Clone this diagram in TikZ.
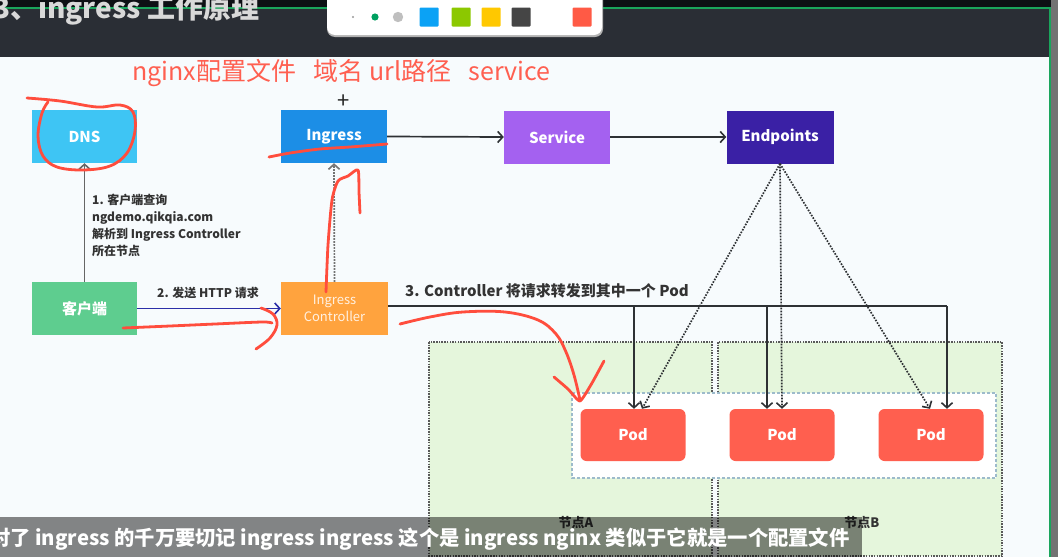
\documentclass[tikz,border=0pt]{standalone}
\usepackage{fontspec}
\setmainfont{Noto Sans CJK SC}
\usetikzlibrary{arrows.meta,calc}
\definecolor{topdark}{HTML}{2A2E35}
\definecolor{topblack}{HTML}{0D1014}
\definecolor{winline}{HTML}{1AA55C}
\definecolor{pagebg}{HTML}{F7FBFD}
\definecolor{dnsblue}{HTML}{3EC5F4}
\definecolor{ingblue}{HTML}{1C8EE6}
\definecolor{svcpurple}{HTML}{A461F0}
\definecolor{epindigo}{HTML}{3A20A5}
\definecolor{clientgreen}{HTML}{5ECD8F}
\definecolor{ctrlorange}{HTML}{FFA33E}
\definecolor{podred}{HTML}{FF5F4F}
\definecolor{nodegreen}{HTML}{E5F6DC}
\definecolor{penred}{HTML}{FF4D3D}
\definecolor{arrowgray}{HTML}{2E3134}
\definecolor{navy}{HTML}{2B2FA8}
\definecolor{dashblue}{HTML}{9DBBCB}
\definecolor{tbblue}{HTML}{0BA2F5}
\definecolor{tbgreen}{HTML}{8CC800}
\definecolor{tbyellow}{HTML}{FFC800}
\definecolor{tbdark}{HTML}{454545}
\definecolor{tbred}{HTML}{FF5A45}
\definecolor{tbdotgreen}{HTML}{00A060}
\begin{document}
\begin{tikzpicture}[x=1pt,y=-1pt,
  box/.style={draw=none, minimum width=106pt, minimum height=53pt, inner sep=0pt,
    text=white, font=\bfseries\fontsize{15}{17}\selectfont, align=center},
  podbox/.style={box, fill=podred, rounded corners=6pt, minimum width=105pt, minimum height=52pt},
  arr/.style={-{Straight Barb[length=5pt,width=11pt,line width=1.6pt]}, line width=1.7pt, draw=arrowgray},
  dotarr/.style={arr, line width=1.7pt, dash pattern=on 1.6pt off 1.4pt},
  lbl/.style={font=\bfseries\fontsize{12}{17}\selectfont, text=black!80, inner sep=0pt},
  regionbox/.style={fill=nodegreen, draw=black!65, line width=1.5pt, dash pattern=on 1.5pt off 1.2pt},
  redpen/.style={draw=penred, line width=2.8pt, line cap=round, line join=round},
  tbsq/.style={minimum width=19pt, minimum height=19pt, inner sep=0pt, rounded corners=1pt}
]
\useasboundingbox (0,0) rectangle (1058,557);
\clip (0,0) rectangle (1058,557);

% window background
\fill[pagebg] (0,0) rectangle (1058,557);
\fill[topblack] (0,0) rectangle (1058,8);
\fill[topdark] (0,8) rectangle (1050,57);
\fill[black!55] (1051,0) rectangle (1058,557);
\draw[winline, line width=1.6pt] (0,8) -- (1050,8) -- (1050,557);

% title
\node[anchor=west, inner sep=0pt, text=black!15, font=\bfseries\fontsize{28}{30}\selectfont] (title) at (-7,10) {3、ingress 工作原理};

% toolbar
\fill[black!30, rounded corners=8pt] (327,-12) rectangle (603,37);
\fill[white, rounded corners=8pt] (327,-12) rectangle (602,35);
\fill[black!40] (353,17) circle (1.2pt);
\fill[tbdotgreen] (375,17) circle (3.6pt);
\fill[black!25] (398,17) circle (5.2pt);
\node[tbsq, fill=tbblue] (tb1) at (429,17) {};
\node[tbsq, fill=tbgreen] (tb2) at (461,17) {};
\node[tbsq, fill=tbyellow] (tb3) at (491,17) {};
\node[tbsq, fill=tbdark] (tb4) at (521,17) {};
\node[tbsq, fill=tbred] (tb5) at (582,17) {};

% node regions
\path[regionbox] (429,342) rectangle (712,556);
\path[regionbox] (718,342) rectangle (1002,556);
\path[fill=white, draw=dashblue, line width=1.2pt, dash pattern=on 3pt off 2pt] (572,393) rectangle (996,478);
\node[lbl, font=\bfseries\fontsize{13}{14}\selectfont] (nA) at (576,523) {节点A};
\node[lbl, font=\bfseries\fontsize{13}{14}\selectfont] (nB) at (862,523) {节点B};

% main boxes
\node[box, fill=dnsblue, minimum width=105pt] (dns) at (84.5,136.5) {DNS};
\node[box, fill=ingblue] (ing) at (334,136.5) {Ingress};
\node[box, fill=svcpurple] (svc) at (557,137) {Service};
\node[box, fill=epindigo, minimum width=107pt] (ep) at (780,137) {Endpoints};
\node[box, fill=clientgreen, minimum width=105pt] (cli) at (84.5,308.5) {客户端};
\node[box, fill=ctrlorange, minimum width=107pt, font=\fontsize{13}{17}\selectfont, text=white!85!ctrlorange] (ctrl) at (334.5,308.5) {Ingress\\Controller};
\node[podbox] (pod1) at (633,435) {Pod};
\node[podbox] (pod2) at (782,435) {Pod};
\node[podbox] (pod3) at (931,435) {Pod};

% connectors
\draw[arr, draw=black!60] (cli.north) -- (dns.south);
\draw[arr, draw=navy] (cli.east) -- (ctrl.west);
\draw[dotarr, draw=black!55] (ctrl.north) -- (ing.south);
\draw[arr] (ing.east) -- (svc.west);
\draw[arr] (svc.east) -- (ep.west);

\coordinate (bus0) at ($(ctrl.east)+(0,-2.5)$);
\coordinate (j1) at (634,306);
\coordinate (j2) at (767,306);
\coordinate (j3) at (947,306);
\draw[line width=1.9pt, draw=arrowgray] (bus0) -- (j3);
\draw[arr] (j1) -- (j1 |- pod1.north);
\draw[arr] (j2) -- (j2 |- pod2.north);
\draw[arr] (j3) -- (j3 |- pod3.north);

\draw[dotarr] (ep.south) -- ([xshift=9pt]pod1.north);
\draw[dotarr] (ep.south) -- (pod2.north);
\draw[dotarr] (ep.south) -- ([xshift=-1pt]pod3.north);

% labels
\node[lbl, anchor=north west, align=left] (l1) at (92,194) {1. 客户端查询\\ngdemo.qikqia.com\\解析到 Ingress Controller\\所在节点};
\node[lbl, anchor=west] (l2) at (157,293) {2. 发送 HTTP 请求};
\node[lbl, anchor=west, font=\bfseries\fontsize{15}{17}\selectfont] (l3) at (405,291) {3. Controller 将请求转发到其中一个 Pod};

% red hand annotations
\node[anchor=west, inner sep=0pt, text=penred!90!white, font=\fontsize{25}{27}\selectfont] (note) at (132,73) {nginx配置文件\hspace{0.7em}域名 url路径\hspace{0.7em}service};
\node[inner sep=0pt, font=\fontsize{22}{22}\selectfont, text=black!85] (plus) at (344,102) {+};

\draw[redpen] plot[smooth, tension=0.6] coordinates {(27,98) (60,101) (97,107) (120,105) (133,112) (135,131) (127,153) (110,166) (83,170) (57,167) (43,156) (38,136) (42,113) (48,102)};
\draw[redpen] plot[smooth, tension=0.5] coordinates {(269,157) (290,153) (320,149) (350,147) (387,144)};
\draw[redpen] plot[smooth, tension=0.4] coordinates {(326,292) (328,245) (332,200) (338,181) (348,176) (358,170) (359,192) (360,213)};
\draw[redpen] plot[smooth, tension=0.5] coordinates {(123,328) (170,326) (215,324) (262,322) (272,323)};
\draw[redpen] plot[smooth, tension=0.6] coordinates {(261,308) (273,314) (277,325) (270,338) (256,349)};
\draw[redpen] plot[smooth, tension=0.6] coordinates {(400,324) (430,317) (463,312) (505,312) (538,320) (556,334) (566,352) (574,375) (580,400)};
\draw[redpen] plot[smooth, tension=0.3] coordinates {(554,377) (568,389) (580,401) (592,383) (604,361)};

% subtitle bar
\fill[black, opacity=0.47] (0,517) rectangle (862,557);
\node[anchor=west, inner sep=0pt, text=white, font=\bfseries\fontsize{20.3}{23}\selectfont] (sub) at (-10,539) {对了 ingress 的千万要切记 ingress ingress 这个是 ingress nginx 类似于它就是一个配置文件};
\end{tikzpicture}
\end{document}
